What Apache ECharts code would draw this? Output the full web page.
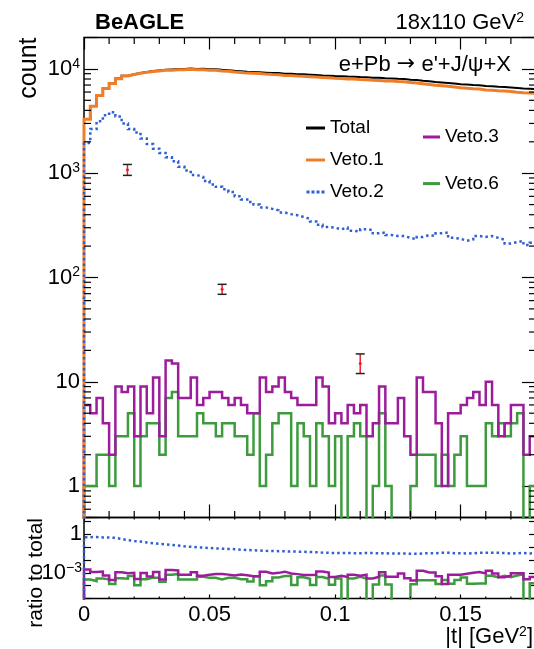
<!DOCTYPE html>
<html>
<head>
<meta charset="utf-8">
<script src="https://cdn.jsdelivr.net/npm/echarts@6/dist/echarts.min.js"></script>
<style>
html, body { margin: 0; padding: 0; background: #fff; }
#chart { width: 534px; height: 649px; }
</style>
</head>
<body>
<div id="chart"></div>
<script>
// |t| binning (GeV^2): 72 bins of 0.0025
const T_MIN = 0;
const T_MAX = 0.18;

const totalCounts = [
  3300, 4400, 5600, 6500, 7300, 8100, 8600, 8900, 9150, 9350,
  9550, 9680, 9820, 9880, 9970, 10000, 10080, 9990, 10020, 9940,
  9910, 9790, 9720, 9590, 9520, 9380, 9360, 9290, 9210, 9140,
  9120, 8990, 8960, 8880, 8870, 8790, 8720, 8640, 8610, 8540,
  8510, 8440, 8420, 8340, 8310, 8240, 8220, 8130, 8110, 8040,
  8010, 7890, 7820, 7690, 7610, 7490, 7420, 7340, 7260, 7140,
  7070, 6990, 6960, 6840, 6810, 6740, 6710, 6640, 6560, 6490,
  6460, 6400
];
const veto1Counts = [
  3290, 4380, 5570, 6470, 7260, 8050, 8540, 8830, 9070, 9260,
  9440, 9560, 9690, 9730, 9810, 9830, 9900, 9800, 9810, 9720,
  9680, 9550, 9470, 9330, 9250, 9110, 9080, 9010, 8910, 8830,
  8800, 8660, 8620, 8530, 8510, 8420, 8340, 8250, 8210, 8140,
  8100, 8020, 7990, 7910, 7870, 7790, 7760, 7670, 7640, 7560,
  7520, 7390, 7310, 7190, 7100, 6970, 6890, 6810, 6720, 6600,
  6520, 6440, 6400, 6280, 6240, 6180, 6140, 6070, 5980, 5920,
  5880, 5820
];
const veto2Counts = [
  1950, 2650, 3150, 3600, 3850, 3500, 3000, 2650, 2450, 2150,
  1900, 1720, 1560, 1420, 1300, 1150, 1060, 960, 920, 840,
  780, 740, 700, 660, 600, 560, 530, 500, 470, 455,
  440, 420, 405, 395, 380, 365, 345, 320, 305, 300,
  290, 300, 280, 275, 290, 285, 265, 270, 255, 250,
  250, 240, 232, 245, 255, 250, 265, 270, 240, 235,
  225, 232, 250, 245, 250, 240, 230, 212, 218, 225,
  205, 215
];
const veto3Counts = [
  6, 5, 7, 4, 2, 9, 8, 9, 3, 9,
  5, 11, 3, 16, 15, 7, 7, 11, 6, 7,
  8, 8, 7, 6, 7, 6, 5, 5, 11, 8,
  9, 11, 8, 7, 6, 6, 6, 11, 9, 4,
  5, 4, 6, 5, 6, 3, 4, 9, 4, 4,
  7, 3, 2, 11, 8, 8, 4, 1, 5, 5,
  6, 7, 8, 6, 10, 6, 3, 4, 6, 6,
  2, 3
];
const veto6Counts = [
  1, 1, 2, 2, 1, 3, 3, 5, 1, 3,
  4, 4, 2, 7, 8, 3, 3, 3, 5, 4,
  4, 3, 4, 4, 3, 3, 2, 5, 1, 2,
  4, 5, 5, 1, 4, 3, 1, 4, 3, 1,
  3, 0, 3, 4, 3, 0, 1, 5, 1, 0,
  0, 0, 1, 2, 2, 2, 1, 2, 1, 2,
  3, 1, 1, 1, 4, 3, 4, 3, 4, 5,
  0, 1
];

// red points with error bars
const errT = [0.0173, 0.055, 0.110];
const errVal = [1080, 77, 15];
const errLow = [953, 69, 12];
const errHigh = [1213, 86, 18.5];

// axis ranges and labelled powers of ten
const countMin = 0.5, countMax = 20000;
const ratioMin = 1e-5, ratioMax = 20;
const countLabelPowers = [0, 1, 2, 3, 4];
const ratioLabelPowers = [0, -3];
const tMinorTicks = [0.01, 0.02, 0.03, 0.04, 0.06, 0.07, 0.08, 0.09, 0.11, 0.12, 0.13, 0.14, 0.16, 0.17];

const FONT = "'Liberation Sans', Arial, Helvetica, sans-serif";
const COL = {
  total: '#000000', veto1: '#f07d28', veto2: '#2f5fd0',
  veto3: '#9c1c9c', veto6: '#3d9b3d', err: '#e8202a'
};

// step outline of a histogram, starting from the axis floor
function histLine(counts, floor) {
  const w = (T_MAX - T_MIN) / counts.length;
  const pts = [[T_MIN, floor]];
  counts.forEach((c, i) => pts.push([T_MIN + i * w, c > 0 ? c : floor]));
  const last = counts[counts.length - 1];
  pts.push([T_MAX, last > 0 ? last : floor]);
  return pts;
}
function ratioOf(counts) {
  return counts.map((c, i) => c / totalCounts[i]);
}

// minor ticks of a log axis (2..9 x 10^k) inside (lo, hi)
function logMinor(lo, hi) {
  const out = [];
  for (let k = Math.floor(Math.log10(lo)); k <= Math.ceil(Math.log10(hi)); k++) {
    for (let m = 2; m <= 9; m++) {
      const v = m * Math.pow(10, k);
      if (v > lo && v < hi) out.push(v);
    }
  }
  return out;
}

function powLabel(allowed) {
  return function (v) {
    const e = Math.log10(v), r = Math.round(e);
    if (Math.abs(e - r) > 1e-6 || allowed.indexOf(r) < 0) return '';
    if (r === 0) return '{b|1}';
    if (r === 1) return '{b|10}';
    return '{b|10}{s|' + (r < 0 ? '\u2212' + (-r) : r) + '}';
  };
}
const labelRich = {
  b: { fontSize: 22, lineHeight: 24, fontFamily: FONT, color: '#000' },
  s: { fontSize: 14, lineHeight: 14, verticalAlign: 'top', fontFamily: FONT, color: '#000' },
  a: { fontSize: 22, lineHeight: 24, fontFamily: "'DejaVu Sans', sans-serif", color: '#000' }
};

function stepSeries(name, counts, floor, color, width, dash, xi, yi, z) {
  return {
    name: name, type: 'line', xAxisIndex: xi, yAxisIndex: yi,
    step: 'end', symbol: 'none', silent: true, z: z, color: color,
    data: histLine(counts, floor),
    lineStyle: { color: color, width: width, type: dash || 'solid', cap: 'butt', join: 'miter' }
  };
}

// tick marks drawn through the axes' own coordinates
function tickSeries(xi, yi, xr, yr, xTicks, xLen, yTicks, yLen) {
  return {
    type: 'custom', xAxisIndex: xi, yAxisIndex: yi, silent: true, clip: false, z: 20,
    data: [[xr[0], yr[0]]],
    renderItem: function (params, api) {
      const kids = [];
      const seg = (p, dx, dy) => kids.push({
        type: 'line', shape: { x1: p[0], y1: p[1], x2: p[0] + dx, y2: p[1] + dy },
        style: { stroke: '#000', lineWidth: 1.2 }
      });
      xTicks.forEach(t => {
        seg(api.coord([t, yr[0]]), 0, -xLen);
        seg(api.coord([t, yr[1]]), 0, xLen);
      });
      yTicks.forEach(v => {
        seg(api.coord([xr[0], v]), yLen, 0);
        seg(api.coord([xr[1], v]), -yLen, 0);
      });
      return { type: 'group', children: kids };
    }
  };
}

const errSeries = {
  type: 'custom', xAxisIndex: 0, yAxisIndex: 0, silent: true, z: 15,
  data: errT.map((t, i) => [t, errVal[i], errLow[i], errHigh[i]]),
  encode: { x: 0, y: 1 },
  renderItem: function (params, api) {
    const t = api.value(0);
    const c = api.coord([t, api.value(1)]);
    const lo = api.coord([t, api.value(2)]);
    const hi = api.coord([t, api.value(3)]);
    const cap = 4.5;
    return {
      type: 'group', children: [
        { type: 'line', shape: { x1: lo[0], y1: lo[1], x2: hi[0], y2: hi[1] }, style: { stroke: COL.err, lineWidth: 1.5 } },
        { type: 'line', shape: { x1: lo[0] - cap, y1: lo[1], x2: lo[0] + cap, y2: lo[1] }, style: { stroke: '#222', lineWidth: 1.5 } },
        { type: 'line', shape: { x1: hi[0] - cap, y1: hi[1], x2: hi[0] + cap, y2: hi[1] }, style: { stroke: '#222', lineWidth: 1.5 } },
        { type: 'circle', shape: { cx: c[0], cy: c[1], r: 1.5 }, style: { fill: COL.err } }
      ]
    };
  }
};

function xAxisDef(grid, pos, tickLen, showLabel) {
  return {
    type: 'value', gridIndex: grid, position: pos, min: T_MIN, max: T_MAX, interval: 0.05,
    axisLine: { show: false, onZero: false },
    axisTick: { show: true, inside: true, length: tickLen, lineStyle: { color: '#000', width: 1.2 } },
    axisLabel: {
      show: showLabel, margin: 5, fontSize: 22, fontFamily: FONT, color: '#000',
      showMaxLabel: false, formatter: v => String(+v.toFixed(2))
    },
    splitLine: { show: false }
  };
}
function yAxisDef(grid, pos, min, max, tickLen, labels, margin) {
  return {
    type: 'log', logBase: 10, gridIndex: grid, position: pos, min: min, max: max,
    axisLine: { show: false, onZero: false },
    axisTick: { show: true, inside: true, length: tickLen, lineStyle: { color: '#000', width: 1.2 } },
    axisLabel: labels ? { show: true, margin: margin, formatter: powLabel(labels), rich: labelRich } : { show: false },
    splitLine: { show: false }
  };
}

const DOT_ICON = 'path://M0,0h3v3h-3zM5,0h3v3h-3zM10,0h3v3h-3zM15,0h3v3h-3z';
const legendText = { fontSize: 19, lineHeight: 20, fontFamily: FONT, color: '#000' };

const option = {
  animation: false,
  backgroundColor: '#fff',
  grid: [
    { left: 84, top: 37.5, width: 452, height: 480, show: true, borderColor: '#000', borderWidth: 1.5, backgroundColor: 'transparent', outerBoundsMode: 'none' },
    { left: 84, top: 517.5, width: 452, height: 81, show: true, borderColor: '#000', borderWidth: 1.5, backgroundColor: 'transparent', outerBoundsMode: 'none' }
  ],
  xAxis: [
    xAxisDef(0, 'bottom', 13, false),
    xAxisDef(0, 'top', 12, false),
    xAxisDef(1, 'bottom', 4, true),
    xAxisDef(1, 'top', 3, false)
  ],
  yAxis: [
    yAxisDef(0, 'left', countMin, countMax, 14, countLabelPowers, 4),
    yAxisDef(0, 'right', countMin, countMax, 14, null),
    yAxisDef(1, 'left', ratioMin, ratioMax, 7, ratioLabelPowers, 2),
    yAxisDef(1, 'right', ratioMin, ratioMax, 7, null)
  ],
  legend: [
    {
      data: [
        { name: 'Total', icon: 'rect', itemStyle: { color: COL.total } },
        { name: 'Veto.1', icon: 'rect', itemStyle: { color: COL.veto1 } },
        { name: 'Veto.2', icon: DOT_ICON, itemStyle: { color: COL.veto2 } }
      ],
      orient: 'vertical', left: 301, top: 113, itemWidth: 19, itemHeight: 3, itemGap: 12,
      textStyle: legendText, selectedMode: false
    },
    {
      data: [
        { name: 'Veto.3', icon: 'rect', itemStyle: { color: COL.veto3 } },
        { name: 'Veto.6', icon: 'rect', itemStyle: { color: COL.veto6 } }
      ],
      orient: 'vertical', left: 418, top: 122, itemWidth: 17, itemHeight: 3, itemGap: 26.6,
      textStyle: legendText, selectedMode: false
    }
  ],
  graphic: [
    { type: 'text', x: 95, y: 22.7, style: { text: 'BeAGLE', fontSize: 22, fontWeight: 'bold', fontFamily: FONT, fill: '#000', align: 'left', verticalAlign: 'middle' } },
    { type: 'text', x: 524, y: 22.7, style: { text: '{b|18x110 GeV}{s|2}', align: 'right', verticalAlign: 'middle', rich: labelRich } },
    { type: 'text', x: 511, y: 64.5, z: 30, style: { text: "{b|e+Pb }{a|\u2192}{b| e'+J/\u03c8+X}", align: 'right', verticalAlign: 'middle', rich: labelRich } },
    { type: 'text', x: 29, y: 37.5, rotation: Math.PI / 2, style: { text: 'count', fontSize: 25, fontFamily: FONT, fill: '#000', align: 'right', verticalAlign: 'middle' } },
    { type: 'text', x: 36, y: 518, rotation: Math.PI / 2, style: { text: 'ratio to total', fontSize: 21, fontFamily: FONT, fill: '#000', align: 'right', verticalAlign: 'middle' } },
    { type: 'text', x: 533, y: 637, style: { text: '{b||t| [GeV}{s|2}{b|]}', align: 'right', verticalAlign: 'middle', rich: labelRich } }
  ],
  series: [
    stepSeries('Veto.6', veto6Counts, 0.1, COL.veto6, 2.5, null, 0, 0, 2),
    stepSeries('Veto.3', veto3Counts, 0.1, COL.veto3, 2.5, null, 0, 0, 3),
    stepSeries('Total', totalCounts, 0.1, COL.total, 2, null, 0, 0, 4),
    stepSeries('Veto.1', veto1Counts, 0.1, COL.veto1, 3, null, 0, 0, 5),
    stepSeries('Veto.2', veto2Counts, 0.1, COL.veto2, 2.5, [2.5, 3], 0, 0, 6),
    errSeries,
    tickSeries(0, 0, [T_MIN, T_MAX], [countMin, countMax], tMinorTicks, 6.5, logMinor(countMin, countMax), 7),
    stepSeries('r6', ratioOf(veto6Counts), 1e-7, COL.veto6, 2.5, null, 2, 2, 2),
    stepSeries('r3', ratioOf(veto3Counts), 1e-7, COL.veto3, 2.5, null, 2, 2, 3),
    stepSeries('r2', ratioOf(veto2Counts), 1e-7, COL.veto2, 2.5, [2.5, 3], 2, 2, 6),
    tickSeries(2, 2, [T_MIN, T_MAX], [ratioMin, ratioMax], tMinorTicks, 2, [], 0)
  ]
};

const chart = echarts.init(document.getElementById('chart'), null, { renderer: 'canvas' });
chart.setOption(option);
</script>
</body>
</html>
